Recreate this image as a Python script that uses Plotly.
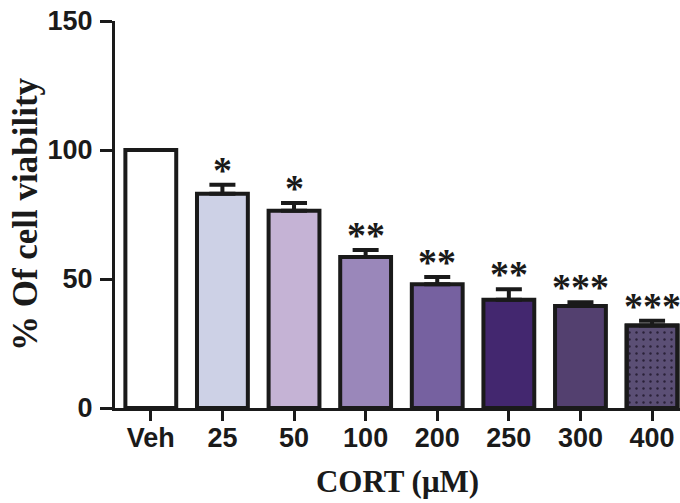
import plotly.graph_objects as go

categories = ["Veh", "25", "50", "100", "200", "250", "300", "400"]
viability = [100, 83, 76.5, 58.5, 48, 42, 39.5, 32]
sem = [0, 3.5, 3, 2.7, 2.8, 4, 1.5, 1.8]
stars = ["", "*", "*", "**", "**", "**", "***", "***"]
colors = ["#ffffff", "#cdd1e6", "#c5b3d5", "#9a87ba", "#7661a0", "#43276f", "#53406f", "#5b4f75"]
patterns = ["", "", "", "", "", "", "", "."]

ink = "#1a1a1a"
bar_width = 0.71

fig = go.Figure()
fig.add_trace(go.Bar(
    x=categories,
    y=viability,
    width=bar_width,
    marker=dict(color=colors, line=dict(color=ink, width=4)),
    error_y=dict(
        type="data",
        symmetric=False,
        array=sem,
        arrayminus=[0] * len(sem),
        color=ink,
        thickness=4,
        width=13,
    ),
    showlegend=False,
    hoverinfo="skip",
))

# dotted fill overlay for the patterned bar(s)
fig.add_trace(go.Bar(
    x=categories,
    y=[v if p else None for v, p in zip(viability, patterns)],
    width=bar_width,
    marker=dict(
        color="rgba(0,0,0,0)",
        line=dict(color=ink, width=4),
        pattern=dict(shape=patterns, fillmode="replace",
                     fgcolor="#2a2138", size=7, solidity=0.1),
    ),
    showlegend=False,
    hoverinfo="skip",
))

for i, (v, e, s) in enumerate(zip(viability, sem, stars)):
    if s:
        fig.add_annotation(
            x=i, y=v + e, text=s, showarrow=False,
            xanchor="center", yanchor="bottom", yshift=-8,
            font=dict(family="Liberation Serif", size=38, color=ink, weight="bold"),
        )

fig.update_layout(
    width=680, height=503,
    barmode="overlay",
    margin=dict(l=115, r=0, t=21, b=95),
    paper_bgcolor="white", plot_bgcolor="white",
    xaxis=dict(
        type="category",
        range=[-0.5, 7.39],
        automargin=False,
        showline=True, linewidth=3, linecolor=ink,
        ticks="outside", ticklen=10, tickwidth=3, tickcolor=ink,
        ticklabelstandoff=-6,
        showgrid=False,
        tickfont=dict(family="Liberation Sans", size=27, color=ink, weight="bold"),
        title=dict(text="<b>CORT (μM)</b>", standoff=18,
                   font=dict(family="Liberation Serif", size=31, color=ink)),
    ),
    yaxis=dict(
        range=[0, 150],
        tickvals=[0, 50, 100, 150],
        automargin=False,
        showline=True, linewidth=3, linecolor=ink,
        ticks="outside", ticklen=12, tickwidth=3, tickcolor=ink,
        ticklabelstandoff=2,
        showgrid=False, zeroline=False,
        tickfont=dict(family="Liberation Sans", size=27, color=ink, weight="bold"),
        title=dict(text="<b>% Of cell viability</b>", standoff=0,
                   font=dict(family="Liberation Serif", size=35, color=ink)),
    ),
)

# remove the browser's default 8px body margin so the figure sits at the page corner
fig.write_html("out.html", config={"displayModeBar": False},
               post_script="document.body.style.margin='0';")
